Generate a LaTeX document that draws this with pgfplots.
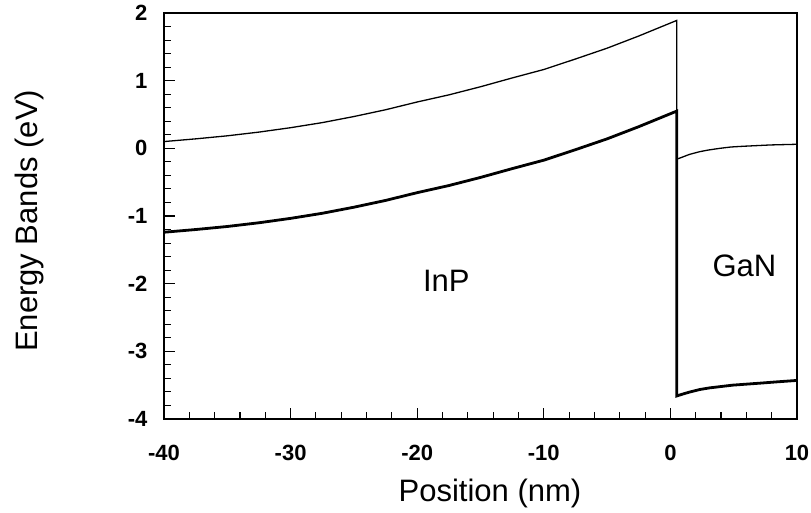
\documentclass[border=0pt]{standalone}
\usepackage{fontspec}
\setmainfont{Liberation Sans}
\usepackage{pgfplots}
\pgfplotsset{compat=1.18}
\begin{document}
\begin{tikzpicture}
\begin{axis}[
  scale only axis, width=633pt, height=406pt,
  xmin=-40, xmax=10, ymin=-4, ymax=2,
  xtick={-40,-30,-20,-10,0,10}, ytick={-4,-3,-2,-1,0,1,2},
  minor x tick num=4, minor y tick num=4,
  tick pos=left, tick align=inside,
  major tick length=11pt, minor tick length=7pt,
  every tick/.style={line width=1.1pt, black},
  axis line style={line width=2.6pt},
  /pgf/number format/assume math mode=true,
  ticklabel style={font=\fontsize{22}{26}\selectfont\bfseries},
  xticklabel style={yshift=-23pt},
  yticklabel style={xshift=-13pt},
  xlabel={Position (nm)}, ylabel={Energy Bands (eV)},
  label style={font=\fontsize{31}{36}\selectfont},
  x label style={at={(axis description cs:0.515,-0.2044)}, anchor=base},
  y label style={at={(axis description cs:-0.2006,0.488)}, anchor=base},
]
% conduction band (thin)
\addplot[black, line width=1.3pt] coordinates {
(-40,0.10) (-37.5,0.14) (-35,0.185) (-32.5,0.24) (-30,0.305) (-27.5,0.38)
(-25,0.47) (-22.5,0.57) (-20,0.685) (-17.5,0.79) (-15,0.91) (-12.5,1.04)
(-10,1.165) (-7.5,1.32) (-5,1.48) (-2.5,1.66) (0.5,1.89)
(0.5,-0.16) (0.8,-0.14) (1.5,-0.09) (2.3,-0.05) (3,-0.025) (3.9,0.0)
(4.8,0.02) (5.7,0.03) (7.9,0.05) (10,0.06)
};
% valence band (thick)
\addplot[black, line width=2.8pt] coordinates {
(-40,-1.24) (-37.5,-1.20) (-35,-1.155) (-32.5,-1.10) (-30,-1.035) (-27.5,-0.96)
(-25,-0.87) (-22.5,-0.77) (-20,-0.655) (-17.5,-0.55) (-15,-0.43) (-12.5,-0.30)
(-10,-0.175) (-7.5,-0.02) (-5,0.14) (-2.5,0.32) (0.5,0.55)
(0.5,-3.66) (1,-3.63) (1.55,-3.60) (2.3,-3.565) (3.1,-3.54) (4,-3.52)
(4.9,-3.50) (6,-3.485) (7.1,-3.47) (8.5,-3.45) (10,-3.43)
};
\node[anchor=base, font=\fontsize{31}{36}\selectfont] at (axis cs:-17.7,-2.12) {InP};
\node[anchor=base, font=\fontsize{31}{36}\selectfont] at (axis cs:5.85,-1.90) {GaN};
\end{axis}
\pgfresetboundingbox
\path[use as bounding box] (-164pt,-93pt) rectangle (647pt,419pt);
\end{tikzpicture}
\end{document}
